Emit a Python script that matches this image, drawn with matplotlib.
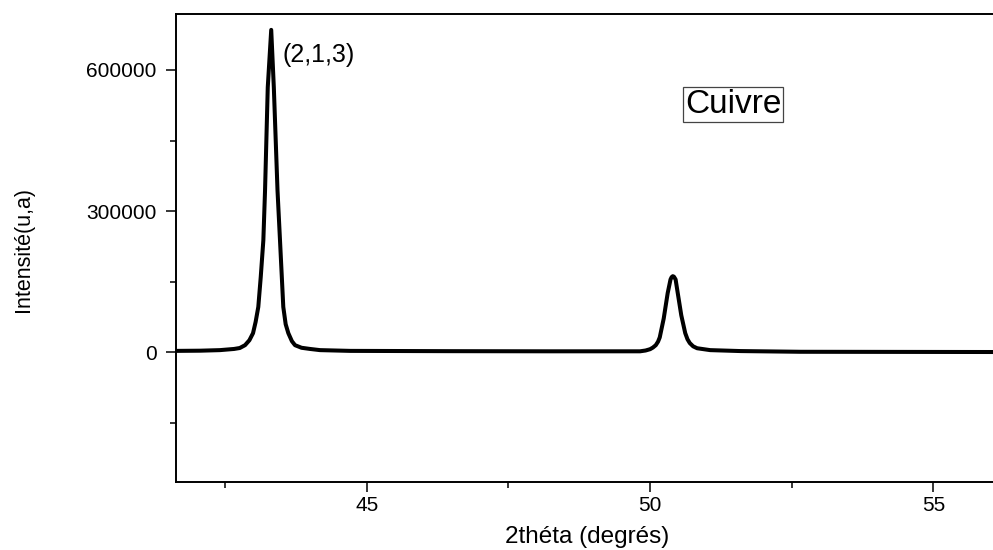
import numpy as np
import matplotlib
matplotlib.use('Agg')
import matplotlib.pyplot as plt
from matplotlib.ticker import MultipleLocator

plt.rcParams['font.family'] = ['Liberation Sans', 'DejaVu Sans']

# diffractogramme du cuivre
theta2 = [41.635, 42.06, 42.41, 42.66, 42.76, 42.853, 42.93, 42.994, 43.04, 43.087,
          43.13, 43.176, 43.206, 43.254, 43.315, 43.361, 43.426, 43.47, 43.528,
          43.57, 43.617, 43.68, 43.735, 43.85, 44.0, 44.176, 44.71,
          46.47, 48.23, 49.47,
          49.823, 49.92, 50.00, 50.05, 50.10, 50.14, 50.17, 50.24, 50.31, 50.36, 50.38,
          50.40, 50.42, 50.45, 50.48, 50.55, 50.62, 50.66, 50.70, 50.76, 50.83,
          51.06, 51.6, 52.65, 56.05]
intensite = [3400, 3800, 5000, 7500, 9500, 15500, 26000, 41000, 65000, 96700,
             160000, 238000, 344000, 563000, 685000, 563000, 344000, 238000, 96700,
             60000, 41000, 24000, 15500, 10000, 7500, 5000, 3400,
             2800, 2500, 2500,
             2500, 4200, 7000, 10500, 15500, 23000, 32000, 72000, 126000, 155000, 160000,
             162000, 161000, 155000, 132000, 79000, 41000, 28000, 20000, 13000, 9000,
             5000, 3000, 1500, 1000]

x_ticks = [45, 50, 55]
y_ticks = [0, 300000, 600000]

fig = plt.figure(figsize=(9.93, 5.5), dpi=100)
ax = fig.add_axes([176/993, 1-482/550, 1-176/993, 468/550])

ax.plot(theta2, intensite, color='black', linewidth=2.9, solid_joinstyle='round')

ax.set_xlim(41.635, 56.05)
ax.set_ylim(-275000, 718700)
ax.set_xticks(x_ticks)
ax.set_yticks(y_ticks)
ax.xaxis.set_minor_locator(MultipleLocator(2.5))
ax.yaxis.set_minor_locator(MultipleLocator(150000))
ax.tick_params(which='major', direction='out', length=7, width=1.1, labelsize=15, pad=3)
ax.tick_params(axis='y', which='major', pad=7)
ax.tick_params(which='minor', direction='out', length=4.3, width=1.1)
ax.tick_params(top=False, right=False, which='both')
ax.spines['right'].set_visible(False)
for s in ['left', 'bottom', 'top']:
    ax.spines[s].set_linewidth(1.4)

ax.set_xlabel('2théta (degrés)', fontsize=17.5, ha='center', va='baseline')
ax.xaxis.set_label_coords(0.503, -0.1303)
ax.set_ylabel('Intensité(u,a)', fontsize=15.5, ha='center', va='center')
ax.yaxis.set_label_coords(-0.187, 0.496)

ax.text(43.52, 632000, '(2,1,3)', fontsize=18, ha='left', va='center')
ax.text(0.682, 0.8056, 'Cuivre', transform=ax.transAxes, fontsize=24,
        ha='center', va='center',
        bbox=dict(boxstyle='square,pad=0.06', facecolor='white', edgecolor='#444444', linewidth=0.9))

fig.savefig('out.png', dpi=100)
